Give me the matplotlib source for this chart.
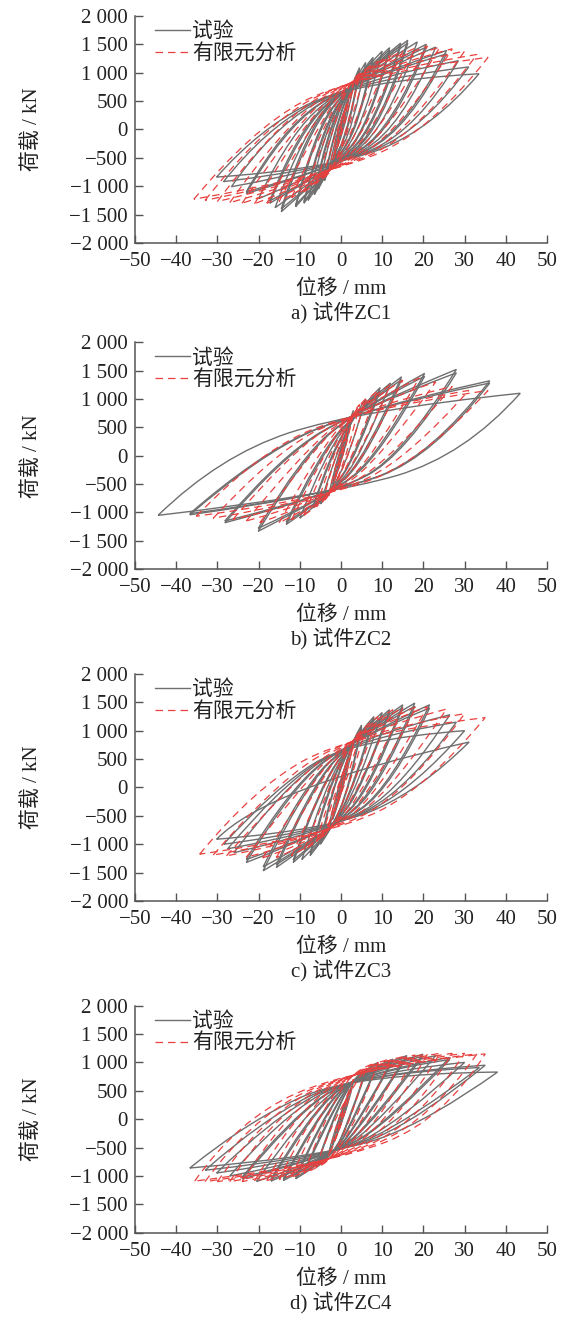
import matplotlib
matplotlib.use("Agg")
import matplotlib.pyplot as plt
from matplotlib.ticker import FuncFormatter
from matplotlib.path import Path
from matplotlib.patches import PathPatch
from matplotlib.lines import Line2D

plt.rcParams['font.family'] = ['Liberation Serif', 'Noto Sans CJK SC']
plt.rcParams['font.size'] = 15
plt.rcParams['axes.unicode_minus'] = True

# one tuple per cycle:
# (pos peak disp, pos peak load, neg peak disp, neg peak load,
#  disp at zero load after + unloading, disp at zero load after - unloading)
zc1_test = [(1, 300, -1, -280, 0.3, -0.3), (2, 600, -2, -550, 0.8, -0.8),
            (3, 780, -2.8, -680, 1.2, -1.2), (4.5, 1090, -4, -900, 2, -1.5),
            (4.5, 1040, -4, -870, 2.2, -1.7), (6, 1180, -5.5, -1050, 3, -2.5),
            (7.8, 1270, -6.5, -1150, 4, -3), (7.8, 1230, -6.5, -1120, 4.3, -3.3),
            (10, 1380, -8, -1250, 5.2, -4), (11.8, 1440, -9, -1300, 6.5, -4.5),
            (11.8, 1400, -9, -1270, 6.8, -4.8), (14.5, 1520, -11, -1360, 8, -6),
            (14.5, 1480, -11, -1330, 8.4, -6.4), (16.2, 1570, -14.5, -1450, 9.5, -8),
            (16.2, 1520, -14.5, -1400, 10, -8.5), (18.5, 1540, -16, -1380, 11, -9),
            (20.7, 1500, -17.3, -1300, 12.5, -10), (20.7, 1450, -17.3, -1260, 13, -10.5),
            (23, 1450, -20, -1220, 14.5, -12), (25.6, 1390, -23, -1130, 16, -14),
            (25.6, 1330, -23, -1100, 16.5, -14.5), (28.5, 1210, -26.6, -1010, 18.5, -17),
            (31, 1100, -28.5, -920, 20, -18.5), (33.5, 980, -30.2, -840, 22, -20)]
zc1_fem = [(1.5, 450, -1.5, -420, 0.4, -0.4), (3, 800, -3, -750, 1, -1),
           (4.5, 950, -4.5, -870, 1.5, -1.5), (6, 1050, -6, -950, 2, -2),
           (9, 1200, -9, -1100, 3, -3), (12, 1300, -12, -1200, 4.5, -4.5),
           (15, 1380, -15, -1270, 6, -6), (18, 1430, -18, -1300, 8, -8),
           (21, 1470, -21, -1310, 10, -10), (24, 1450, -24, -1300, 12, -12),
           (27, 1420, -27, -1290, 14.5, -14.5), (30, 1380, -30, -1270, 17, -17),
           (33, 1320, -33, -1250, 19.5, -19.5), (35.7, 1270, -35.7, -1230, 22, -21.7)]

zc2_test = [(1, 300, -1, -280, 0.3, -0.3), (2, 550, -2, -500, 0.8, -0.8),
            (3, 800, -3, -700, 1, -1), (6, 1000, -5, -850, 2, -1.5),
            (9.5, 1200, -6.8, -918, 3.5, -2.5), (9.5, 1150, -6.8, -890, 3.8, -2.8),
            (12, 1280, -10, -1100, 5, -4), (14.7, 1390, -13.3, -1210, 6, -5),
            (14.7, 1340, -13.3, -1170, 6.5, -5.5), (20.3, 1450, -20.1, -1330, 9, -9),
            (20.3, 1400, -20.1, -1280, 9.5, -9.5), (28, 1520, -28.2, -1180, 15, -14),
            (28, 1460, -28.2, -1150, 15.5, -14.5), (36.1, 1320, -36.7, -1040, 22, -20),
            (36.1, 1280, -36.7, -1020, 22.5, -20.5), (43.5, 1100, -44.4, -1050, 30, -29.5)]
zc2_fem = [(1.5, 420, -1.5, -400, 0.4, -0.4), (3, 750, -3, -700, 1, -1),
           (4.5, 900, -4.5, -820, 1.5, -1.5), (6, 1000, -6, -900, 2, -2),
           (9, 1150, -9, -1050, 3, -3), (12, 1250, -12, -1130, 4.5, -4.5),
           (15, 1330, -15, -1180, 6, -6), (19, 1370, -19.7, -1180, 8, -8),
           (23, 1300, -23, -1150, 10, -10), (27, 1220, -26.2, -1120, 13, -13),
           (31, 1150, -31, -1100, 17, -17), (35.7, 1150, -35.1, -1065, 21, -21)]

zc3_test = [(1, 320, -1, -300, 0.3, -0.3), (2, 600, -2, -560, 0.8, -0.8),
            (3, 800, -3, -700, 1, -1), (5, 1100, -5, -1000, 2, -2),
            (5, 1060, -5, -960, 2.2, -2.2), (8, 1250, -7.5, -1200, 3, -3),
            (8, 1210, -7.5, -1160, 3.3, -3.3), (10, 1320, -9.5, -1270, 4, -4),
            (11.8, 1370, -11.6, -1321, 5, -5), (11.8, 1330, -11.6, -1280, 5.3, -5.3),
            (15, 1456, -15.7, -1409, 7, -7), (15, 1410, -15.7, -1360, 7.4, -7.4),
            (17.9, 1486, -18.9, -1468, 9, -9), (17.9, 1430, -18.9, -1400, 9.5, -9.5),
            (21.5, 1456, -23, -1321, 12, -12), (21.5, 1400, -23, -1270, 12.5, -12.5),
            (26.4, 1280, -26, -1150, 15, -14), (28, 1150, -27.5, -1080, 16.5, -15),
            (30, 1000, -28.5, -1000, 18, -16), (31.1, 800, -30.2, -912, 20, -18)]
zc3_fem = [(1.5, 450, -1.5, -420, 0.4, -0.4), (3, 800, -3, -700, 1, -1),
           (4.5, 950, -4.5, -850, 1.5, -1.5), (6, 1050, -6, -950, 2, -2),
           (9, 1250, -9, -1100, 3, -3), (12.6, 1368, -12, -1200, 4.5, -4.5),
           (15, 1400, -15.7, -1235, 6, -6), (18.3, 1420, -19, -1240, 8, -8),
           (21, 1420, -23, -1230, 10, -10), (25.6, 1380, -27.8, -1205, 13, -13),
           (30, 1300, -31, -1190, 17, -17), (35, 1230, -34.3, -1175, 21, -21)]

zc4_test = [(1, 250, -1, -240, 0.3, -0.3), (2, 480, -2, -450, 0.8, -0.8),
            (3, 650, -3, -600, 1, -1), (6, 850, -6, -850, 2, -2),
            (6, 820, -6, -820, 2.2, -2.2), (9, 1000, -9, -950, 3, -3),
            (9, 970, -9, -920, 3.3, -3.3), (12.6, 1057, -11, -1050, 4.5, -4.5),
            (12.6, 1030, -11, -1020, 4.8, -4.8), (16, 1120, -14, -1080, 6, -6),
            (16, 1090, -14, -1050, 6.4, -6.4), (19.9, 1145, -17, -1090, 8, -8),
            (19.9, 1110, -17, -1060, 8.5, -8.5), (23, 1120, -20.5, -1097, 10, -10),
            (26.4, 1087, -24, -1050, 12, -12), (26.4, 1050, -24, -1020, 12.5, -12.5),
            (30, 1000, -27, -1000, 15, -15), (33.6, 910, -30.2, -949, 17, -17),
            (35, 950, -33, -900, 19, -19), (38, 830, -36.7, -860, 22, -22)]
zc4_fem = [(1.5, 400, -1.5, -380, 0.4, -0.4), (3, 700, -3, -650, 1, -1),
           (6, 900, -6, -850, 2.5, -2.5), (9, 1000, -9, -950, 4, -4),
           (12, 1060, -12, -1020, 6, -6), (15, 1100, -15, -1060, 8, -8),
           (18, 1130, -18, -1080, 10, -10), (21, 1150, -21, -1090, 12, -12),
           (24, 1160, -24, -1100, 14.5, -14.5), (27, 1160, -27, -1100, 17, -17),
           (30, 1160, -30, -1100, 19.5, -19.5), (33, 1150, -33, -1100, 22, -22),
           (35, 1150, -35.5, -1090, 25, -25)]

# points near the origin that most branches pass through: (upper, lower)
test_pinch = [((3, 850), (-3, -700)), ((4, 800), (-3, -700)),
              ((3, 850), (-2.5, -750)), ((3.5, 800), (-2, -650))]
fem_pinch = [((2.5, 950), (-2.5, -800)), ((3, 800), (-3, -750)),
             ((3, 950), (-3, -850)), ((3, 900), (-3, -800))]

tests = [zc1_test, zc2_test, zc3_test, zc4_test]
fems = [zc1_fem, zc2_fem, zc3_fem, zc4_fem]
captions = ["a) 试件ZC1", "b) 试件ZC2", "c) 试件ZC3", "d) 试件ZC4"]
x_ticks = [-50, -40, -30, -20, -10, 0, 10, 20, 30, 40, 50]
y_ticks = [-2000, -1500, -1000, -500, 0, 500, 1000, 1500, 2000]

gray = "#6f6f6f"
red = "#e8413f"
axis_col = "#555555"
txt_col = "#222222"
red_dash = (0, (6, 4))


def half(start, zero, pinch, end, inside):
    # smooth branch from one peak to the other, through the zero crossing
    # and (if it lies on the way) the pinch point
    if inside:
        mid = ((zero[0] + pinch[0]) / 2, (zero[1] + pinch[1]) / 2)
        return [zero, mid, pinch, end], [Path.CURVE3] * 4
    return [zero, end], [Path.CURVE3] * 2


def loop_path(cyc, pinch):
    dp, pp, dn, pn, zp, zn = cyc
    (ux, uy), (lx, ly) = pinch
    verts, codes = [(dn, pn)], [Path.MOVETO]
    v, c = half((dn, pn), (zn, 0), (ux, uy), (dp, pp), zn < ux < dp and uy < pp)
    verts += v
    codes += c
    v, c = half((dp, pp), (zp, 0), (lx, ly), (dn, pn), dn < lx < zp and ly > pn)
    verts += v
    codes += c
    return Path(verts, codes)


def yfmt(v, pos):
    s = f"{abs(int(round(v))):,}".replace(",", " ")
    return ("\u2212" + s) if v < 0 else s


def xfmt(v, pos):
    return ("\u2212%d" % abs(v)) if v < 0 else "%d" % v


fig = plt.figure(figsize=(5.66, 13.19), dpi=100)
bottoms = [0.8158, 0.5684, 0.3169, 0.0654]

for i in range(4):
    ax = fig.add_axes([0.2385, bottoms[i], 0.728, 0.1722])
    for cyc in tests[i]:
        ax.add_patch(PathPatch(loop_path(cyc, test_pinch[i]), fill=False,
                               edgecolor=gray, lw=1.0))
    for cyc in fems[i]:
        ax.add_patch(PathPatch(loop_path(cyc, fem_pinch[i]), fill=False,
                               edgecolor=red, lw=0.9, ls=red_dash))

    ax.set_xlim(-50, 50)
    ax.set_ylim(-2000, 2000)
    ax.set_xticks(x_ticks)
    ax.set_yticks(y_ticks)
    ax.xaxis.set_major_formatter(FuncFormatter(xfmt))
    ax.yaxis.set_major_formatter(FuncFormatter(yfmt))
    ax.spines['top'].set_visible(False)
    ax.spines['right'].set_visible(False)
    for s in ['left', 'bottom']:
        ax.spines[s].set_color(axis_col)
        ax.spines[s].set_linewidth(1.1)
    ax.tick_params(direction='in', length=5.5, width=1.0, color=axis_col,
                   labelsize=15, labelcolor=txt_col)
    ax.tick_params(axis='y', pad=5)
    ax.tick_params(axis='x', pad=6.5)
    ax.set_xlabel("位移 / mm", labelpad=6, color=txt_col)
    ax.set_ylabel("荷载 / kN", labelpad=20, color=txt_col)
    ax.text(0.5, -0.307, captions[i], transform=ax.transAxes,
            ha='center', va='center', color=txt_col)
    handles = [Line2D([], [], color=gray, lw=1.0),
               Line2D([], [], color=red, lw=0.9, ls=red_dash)]
    ax.legend(handles, ["试验", "有限元分析"], loc='upper left',
              bbox_to_anchor=(0.012, 1.035), frameon=False,
              handlelength=1.7, handletextpad=0.1, labelspacing=0.1,
              borderpad=0.2, fontsize=15, labelcolor=txt_col)

fig.savefig("out.png", dpi=100)
